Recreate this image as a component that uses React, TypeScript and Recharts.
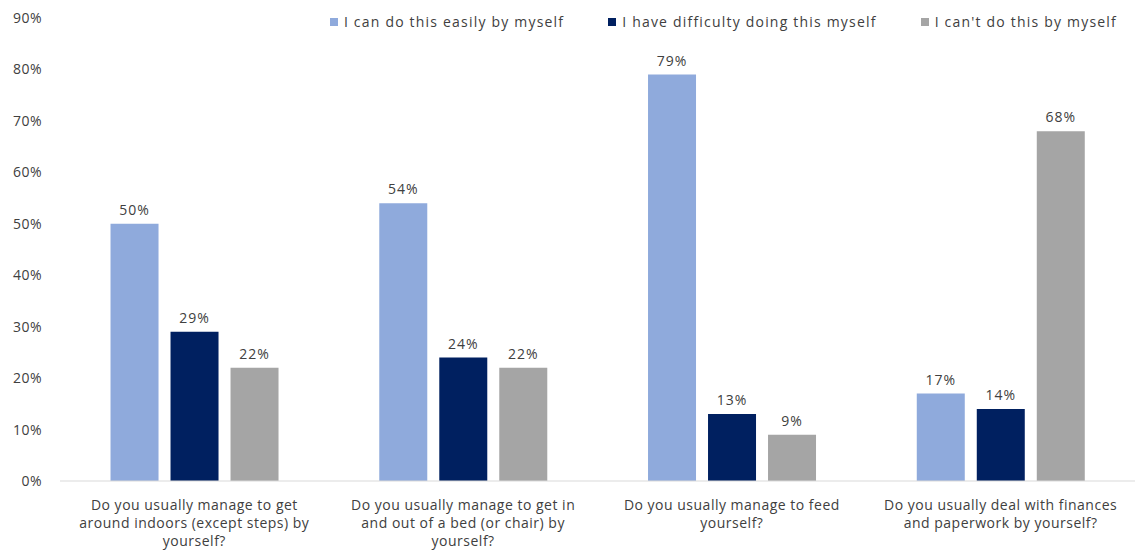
import React from 'react';
import { BarChart, Bar, XAxis, YAxis, Legend, LabelList } from 'recharts';

const categories = [
  'Do you usually manage to get around indoors (except steps) by yourself?',
  'Do you usually manage to get in and out of a bed (or chair) by yourself?',
  'Do you usually manage to feed yourself?',
  'Do you usually deal with finances and paperwork by yourself?',
];
const categoryLines = [
  ['Do you usually manage to get', 'around indoors (except steps) by', 'yourself?'],
  ['Do you usually manage to get in', 'and out of a bed (or chair) by', 'yourself?'],
  ['Do you usually manage to feed', 'yourself?'],
  ['Do you usually deal with finances', 'and paperwork by yourself?'],
];
const easily = [50, 54, 79, 17];
const difficulty = [29, 24, 13, 14];
const cannot = [22, 22, 9, 68];
const yTicks = [0, 10, 20, 30, 40, 50, 60, 70, 80, 90];

const seriesNames = [
  'I can do this easily by myself',
  'I have difficulty doing this myself',
  "I can't do this by myself",
];
const colors = ['#8FAADC', '#002060', '#A5A5A5'];

const data = categories.map((c, i) => ({
  name: c,
  idx: i,
  easily: easily[i],
  difficulty: difficulty[i],
  cannot: cannot[i],
}));

const FONT = "'Open Sans', sans-serif";
const TEXT = '#404040';

const XTick = (props: any) => {
  const { x, y, payload } = props;
  const lines = categoryLines[payload.index] || [payload.value];
  return (
    <g>
      {lines.map((l: string, i: number) => (
        <text
          key={i}
          x={x}
          y={y + 21 + i * 18}
          textAnchor="middle"
          fontFamily={FONT}
          fontSize={14}
          letterSpacing={0.5}
          fill={TEXT}
        >
          {l}
        </text>
      ))}
    </g>
  );
};

const LegendContent = () => (
  <div
    style={{
      display: 'flex',
      justifyContent: 'flex-end',
      paddingRight: 22,
      gap: 44,
      fontFamily: FONT,
      fontSize: 14,
      letterSpacing: 1.2,
      color: TEXT,
    }}
  >
    {seriesNames.map((n, i) => (
      <div key={n} style={{ display: 'flex', alignItems: 'center' }}>
        <span
          style={{
            display: 'inline-block',
            width: 8,
            height: 8,
            background: colors[i],
            marginRight: 6,
          }}
        />
        <span>{n}</span>
      </div>
    ))}
  </div>
);

const fmt = (v: any) => `${v}%`;
const labelStyle = { fontFamily: FONT, fontSize: 14, letterSpacing: 1, fill: TEXT };

export default function App() {
  return (
    <div style={{ position: 'absolute', left: 0, top: 0, background: '#fff' }}>
      <BarChart
        width={1139}
        height={554}
        data={data}
        margin={{ top: 0, right: 4, bottom: 0, left: 0 }}
        barCategoryGap="18.8%"
        barGap={12}
      >
        <XAxis
          dataKey="name"
          height={73}
          tickLine={false}
          axisLine={{ stroke: '#D9D9D9', strokeWidth: 1 }}
          tick={<XTick />}
          interval={0}
        />
        <YAxis
          width={60}
          domain={[0, 90]}
          ticks={yTicks}
          tickFormatter={fmt}
          axisLine={false}
          tickLine={false}
          tickSize={0}
          tickMargin={18}
          tick={{ fontFamily: FONT, fontSize: 14, letterSpacing: 0.5, fill: TEXT }}
        />
        <Legend
          verticalAlign="top"
          content={<LegendContent />}
          wrapperStyle={{ top: 12, left: 0, width: 1139, height: 18 }}
        />
        <Bar dataKey="easily" name={seriesNames[0]} fill={colors[0]} isAnimationActive={false}>
          <LabelList dataKey="easily" position="top" offset={9} formatter={fmt} style={labelStyle} />
        </Bar>
        <Bar dataKey="difficulty" name={seriesNames[1]} fill={colors[1]} isAnimationActive={false}>
          <LabelList dataKey="difficulty" position="top" offset={9} formatter={fmt} style={labelStyle} />
        </Bar>
        <Bar dataKey="cannot" name={seriesNames[2]} fill={colors[2]} isAnimationActive={false}>
          <LabelList dataKey="cannot" position="top" offset={9} formatter={fmt} style={labelStyle} />
        </Bar>
      </BarChart>
    </div>
  );
}
